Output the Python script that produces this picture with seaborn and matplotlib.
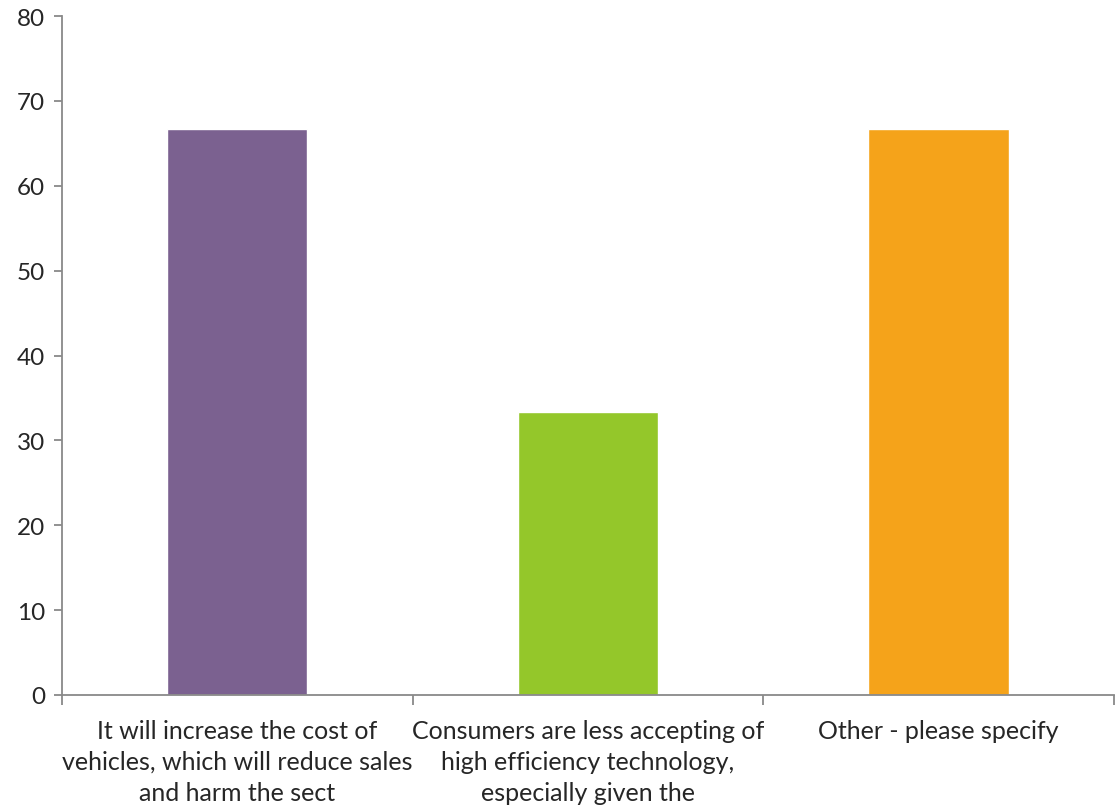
import matplotlib
matplotlib.use("Agg")
import matplotlib.pyplot as plt
import seaborn as sns
import pandas as pd
import numpy as np

categories = [
    "It will increase the cost of\nvehicles, which will reduce sales\nand harm the sect",
    "Consumers are less accepting of\nhigh efficiency technology,\nespecially given the",
    "Other - please specify",
]
values = [66.67, 33.33, 66.67]
colors = ["#7B6190", "#94C72A", "#F5A31A"]

df = pd.DataFrame({"cat": categories, "val": values})

sns.set_style("white")
plt.rcParams["font.family"] = ["Lato", "DejaVu Sans"]

fig = plt.figure(figsize=(11.15, 8.12), dpi=100)
ax = fig.add_axes([62 / 1115, 1 - 696 / 812, 1 - 62 / 1115 - 0.001, (696 - 17) / 812])

sns.barplot(data=df, x="cat", y="val", hue="cat", palette=colors,
            width=0.4, legend=False, ax=ax, saturation=1)

ax.set_xlim(-0.5, 2.5)
ax.set_ylim(0, 80)
ax.set_yticks(np.arange(0, 81, 10))
ax.set_xlabel("")
ax.set_ylabel("")

spine_col = "#898989"
for s in ["top", "right"]:
    ax.spines[s].set_visible(False)
for s in ["left", "bottom"]:
    ax.spines[s].set_color(spine_col)
    ax.spines[s].set_linewidth(1.3)

ax.tick_params(axis="y", length=6, width=1.3, color=spine_col, labelsize=17.5, pad=6, left=True)
ax.tick_params(axis="x", which="major", length=0, labelsize=18, pad=17)
ax.set_xticks([-0.5, 0.5, 1.5, 2.5], minor=True)
ax.tick_params(axis="x", which="minor", length=7, width=1.3, color=spine_col, bottom=True)
for lbl in ax.get_xticklabels():
    lbl.set_multialignment("center")
    lbl.set_linespacing(1.42)

fig.savefig("out.png", dpi=100)
